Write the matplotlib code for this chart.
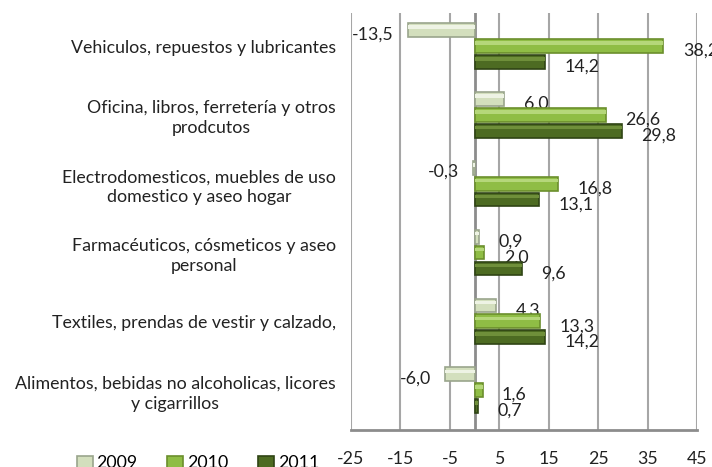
import matplotlib.pyplot as plt
import numpy as np

plt.rcParams['font.family'] = ['Lato', 'DejaVu Sans']

# Categories, top to bottom
categories = [
    'Vehiculos, repuestos y lubricantes',
    'Oficina, libros, ferretería y otros\nprodcutos',
    'Electrodomesticos, muebles de uso\ndomestico y aseo hogar',
    'Farmacéuticos, cósmeticos y aseo\npersonal',
    'Textiles, prendas de vestir y calzado,',
    'Alimentos, bebidas no alcoholicas, licores\ny cigarrillos',
]
years = ['2009', '2010', '2011']
v2009 = [-13.5, 6.0, -0.3, 0.9, 4.3, -6.0]
v2010 = [38.2, 26.6, 16.8, 2.0, 13.3, 1.6]
v2011 = [14.2, 29.8, 13.1, 9.6, 14.2, 0.7]
xticks = [-25, -15, -5, 5, 15, 25, 35, 45]

series = [v2009, v2010, v2011]
faces = ['#d3dfbd', '#8fbd45', '#4d6b22']
edges = ['#9aa58c', '#6b8f2c', '#2f4414']
lights = ['#eef3e4', '#b5d77a', '#6f8f3a']
fs = 12.8

fig = plt.figure(figsize=(7.12, 4.67), dpi=100)
ax = fig.add_axes([0.493, 0.079, 0.486, 0.893])

y = np.arange(len(categories))
h = 0.2
offsets = [-0.23, 0.0, 0.23]

for vals, off, fc, ec, lc, name in zip(series, offsets, faces, edges, lights, years):
    ax.barh(y + off, vals, height=h, color=fc, edgecolor=ec, linewidth=1.2, label=name, zorder=3)
    # lighter stripe for the bevelled look
    ax.barh(y + off - 0.045, vals, height=0.05, color=lc, linewidth=0, zorder=4)
    for yi, v in zip(y, vals):
        txt = f'{v:.1f}'.replace('.', ',')
        if v < 0:
            ax.annotate(txt, (v, yi + off), xytext=(-10, -3), textcoords='offset points',
                        ha='right', va='center', fontsize=fs, color='#222222')
        else:
            ax.annotate(txt, (v, yi + off), xytext=(14, -3.5), textcoords='offset points',
                        ha='left', va='center', fontsize=fs, color='#222222')

ax.set_xlim(-25, 45)
ax.set_ylim(5.58, -0.48)
ax.set_xticks(xticks)
ax.set_xticklabels([str(t) for t in xticks])
ax.set_yticks(y)
ax.set_yticklabels(categories, multialignment='center', linespacing=1.3)
ax.tick_params(axis='x', length=0, pad=15, labelsize=fs, colors='#222222')
ax.tick_params(axis='y', length=0, pad=11, labelsize=fs, colors='#222222')

ax.grid(axis='x', color='#a6a6a6', linewidth=1.5, zorder=0)
ax.axvline(0, color='#8c8c8c', linewidth=2, zorder=2)
for s in ['top', 'right', 'left']:
    ax.spines[s].set_visible(False)
ax.spines['bottom'].set_color('#8c8c8c')
ax.spines['bottom'].set_linewidth(2)

fig.legend(loc='center left', bbox_to_anchor=(0.085, 0.008), ncol=3, frameon=False,
           fontsize=fs, handlelength=0.9, handleheight=0.6, handletextpad=0.2,
           columnspacing=1.7)

fig.savefig('out.png', dpi=100)
